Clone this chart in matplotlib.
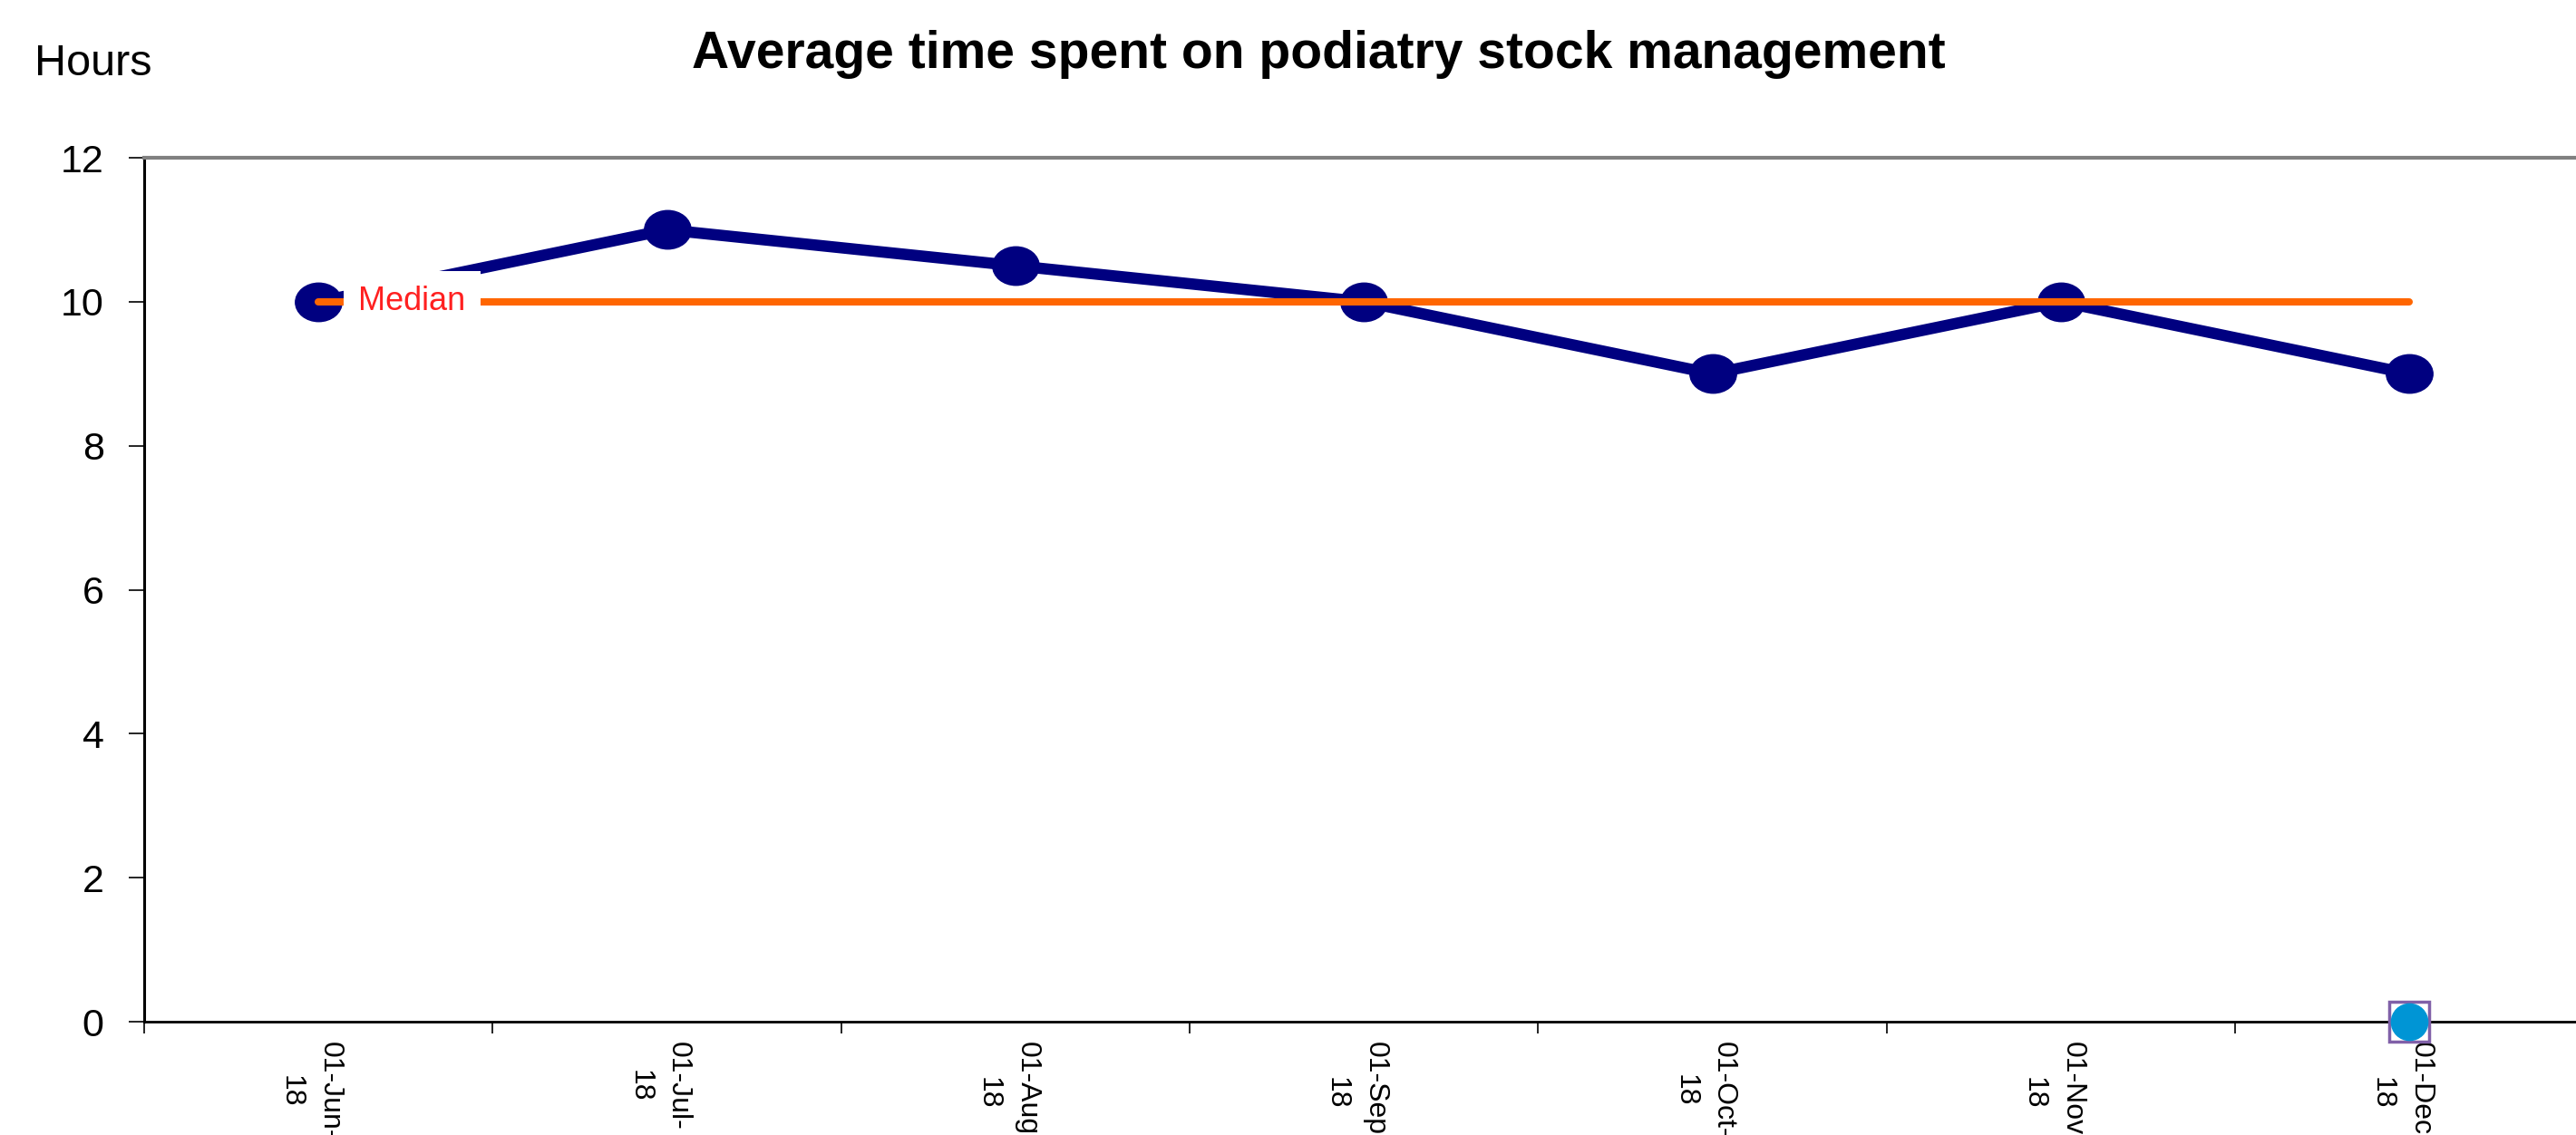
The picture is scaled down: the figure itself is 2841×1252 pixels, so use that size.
import matplotlib
matplotlib.use("Agg")
import matplotlib.pyplot as plt
from matplotlib.path import Path
from matplotlib.transforms import Affine2D, ScaledTranslation

months = ["01-Jun-\n18", "01-Jul-\n18", "01-Aug-\n18", "01-Sep-\n18", "01-Oct-\n18", "01-Nov-\n18", "01-Dec-\n18"]
hours = [10, 11, 10.5, 10, 9, 10, 9]
median = [10, 10, 10, 10, 10, 10, 10]
special_idx = [6]
special_val = [0]

plt.rcParams['font.family'] = ['Liberation Sans', 'DejaVu Sans']

fig = plt.figure(figsize=(28.41, 12.52), dpi=100)
ax = fig.add_axes([0.056, 0.0998, 0.947, 0.7612])

ellipse = Path.unit_circle().transformed(Affine2D().scale(1.21, 1.0))

x = list(range(len(months)))
ax.plot(x, hours, color="#000080", lw=9, marker=ellipse, markersize=37, zorder=3)
ax.plot(x, median, color="#FF6600", lw=5.8, solid_capstyle="round", zorder=4)
ax.text(0.115, median[0], "Median", color="#FF2020", fontsize=26, va="center", ha="left",
        zorder=5, bbox=dict(facecolor="white", edgecolor="none", pad=12))

ax.plot(special_idx, special_val, marker="s", markersize=32, markerfacecolor="white",
        markeredgecolor="#8060A8", markeredgewidth=2.5, linestyle="none", clip_on=False, zorder=6)
ax.plot(special_idx, special_val, marker="o", markersize=29, color="#0095D5",
        linestyle="none", clip_on=False, zorder=7)

ax.set_xlim(-0.5, 6.5)
ax.set_ylim(0, 12)
ax.set_yticks([0, 2, 4, 6, 8, 10, 12])
ax.tick_params(axis="y", labelsize=31, length=12, width=1.2, pad=20, direction="out")

ax.set_xticks([i - 0.5 for i in range(len(months) + 1)])
ax.set_xticklabels([])
ax.set_xticks(x, minor=True)
ax.set_xticklabels(months, minor=True, rotation=-90, fontsize=23, va="top", ha="center",
                   linespacing=1.55)
ax.tick_params(axis="x", which="major", length=9, width=1.2, direction="out")
ax.tick_params(axis="x", which="minor", length=0, pad=16)
off = ScaledTranslation(-0.09, 0, fig.dpi_scale_trans)
for lab in ax.get_xticklabels(minor=True):
    lab.set_transform(lab.get_transform() + off)

ax.spines["right"].set_visible(False)
ax.spines["top"].set_color("#808080")
ax.spines["top"].set_linewidth(3)
ax.spines["left"].set_linewidth(2.2)
ax.spines["bottom"].set_linewidth(2)

fig.text(0.512, 0.940, "Average time spent on podiatry stock management", fontsize=41,
         fontweight="bold", ha="center", va="baseline")
fig.text(0.036, 0.934, "Hours", fontsize=35, ha="center", va="baseline")

fig.savefig("out.png", dpi=100)
